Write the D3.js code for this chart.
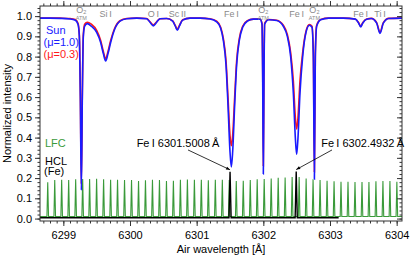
<!DOCTYPE html>
<html>
<head>
<meta charset="utf-8">
<title>Solar spectrum near 6300 A</title>
<style>
  body { margin: 0; background: #fff; }
  svg { font-family: "Liberation Sans", Arial, sans-serif; }
  .axis text { font-size: 11px; fill: #000; }
  .axis line { stroke: #333; }
  .axis path { display: none; }
</style>
</head>
<body>
<svg width="415" height="256"></svg>
<script src="https://d3js.org/d3.v7.min.js"></script>
<script>

// solar spectrum (air wavelength in A)
var wave = [6298.65, 6298.80, 6298.95, 6299.10, 6299.18, 6299.22, 6299.24, 6299.255, 6299.27, 6299.285,
            6299.30, 6299.32, 6299.36, 6299.42, 6299.50, 6299.56, 6299.60, 6299.635, 6299.67, 6299.71,
            6299.77, 6299.85, 6299.95, 6300.10, 6300.25, 6300.30, 6300.35, 6300.40, 6300.45, 6300.55,
            6300.64, 6300.68, 6300.71, 6300.74, 6300.79, 6300.90, 6301.05, 6301.20, 6301.30, 6301.36,
            6301.40, 6301.44, 6301.47, 6301.50, 6301.52, 6301.54, 6301.57, 6301.60, 6301.64, 6301.69,
            6301.76, 6301.85, 6301.95, 6301.98, 6301.99, 6302.00, 6302.01, 6302.02, 6302.08, 6302.20,
            6302.30, 6302.36, 6302.41, 6302.45, 6302.48, 6302.50, 6302.52, 6302.55, 6302.59, 6302.64,
            6302.69, 6302.73, 6302.75, 6302.766, 6302.78, 6302.80, 6302.86, 6302.98, 6303.20, 6303.38,
            6303.43, 6303.46, 6303.49, 6303.55, 6303.62, 6303.70, 6303.75, 6303.80, 6303.88, 6304.08];

// disc centre, mu = 1.0
var sunCentre = [0.990, 0.990, 0.989, 0.986, 0.980, 0.960, 0.900, 0.600, 0.140, 0.600,
                 0.900, 0.950, 0.963, 0.950, 0.920, 0.870, 0.815, 0.778, 0.815, 0.870,
                 0.935, 0.975, 0.987, 0.990, 0.987, 0.970, 0.952, 0.970, 0.987, 0.988,
                 0.975, 0.950, 0.930, 0.950, 0.980, 0.990, 0.990, 0.986, 0.972, 0.940,
                 0.880, 0.760, 0.560, 0.330, 0.255, 0.330, 0.560, 0.760, 0.880, 0.945,
                 0.975, 0.985, 0.985, 0.960, 0.700, 0.220, 0.700, 0.960, 0.982, 0.978,
                 0.950, 0.900, 0.800, 0.620, 0.400, 0.317, 0.400, 0.620, 0.800, 0.920,
                 0.955, 0.945, 0.800, 0.195, 0.800, 0.950, 0.982, 0.990, 0.990, 0.985,
                 0.965, 0.947, 0.965, 0.985, 0.988, 0.965, 0.915, 0.965, 0.988, 0.990];

// towards the limb, mu = 0.3
var sunLimb = [0.991, 0.991, 0.990, 0.988, 0.983, 0.965, 0.910, 0.620, 0.170, 0.620,
               0.910, 0.960, 0.970, 0.960, 0.930, 0.880, 0.825, 0.790, 0.825, 0.880,
               0.940, 0.977, 0.988, 0.990, 0.988, 0.972, 0.957, 0.972, 0.987, 0.988,
               0.977, 0.953, 0.935, 0.953, 0.982, 0.990, 0.990, 0.987, 0.975, 0.945,
               0.890, 0.780, 0.600, 0.410, 0.360, 0.410, 0.600, 0.780, 0.890, 0.950,
               0.977, 0.985, 0.986, 0.965, 0.750, 0.260, 0.750, 0.965, 0.983, 0.980,
               0.955, 0.910, 0.820, 0.680, 0.500, 0.442, 0.500, 0.680, 0.820, 0.925,
               0.958, 0.950, 0.820, 0.230, 0.820, 0.955, 0.983, 0.990, 0.990, 0.986,
               0.967, 0.950, 0.967, 0.986, 0.989, 0.968, 0.920, 0.968, 0.989, 0.990];

// laser frequency comb lines
var lfcWave = [6298.766, 6298.871, 6298.975, 6299.080, 6299.185, 6299.290, 6299.394, 6299.499, 6299.604, 6299.709,
               6299.813, 6299.918, 6300.023, 6300.128, 6300.232, 6300.337, 6300.442, 6300.547, 6300.651, 6300.756,
               6300.861, 6300.966, 6301.070, 6301.175, 6301.280, 6301.385, 6301.489, 6301.594, 6301.699, 6301.804,
               6301.908, 6302.013, 6302.118, 6302.223, 6302.327, 6302.432, 6302.537, 6302.642, 6302.746, 6302.851,
               6302.956, 6303.061, 6303.165, 6303.270, 6303.375, 6303.480, 6303.584, 6303.689, 6303.794, 6303.899,
               6304.003];
var lfcPeak = [0.179, 0.190, 0.192, 0.191, 0.194, 0.195, 0.196, 0.197, 0.194, 0.192,
               0.192, 0.190, 0.190, 0.185, 0.189, 0.192, 0.190, 0.185, 0.187, 0.192,
               0.193, 0.192, 0.192, 0.189, 0.192, 0.192, 0.190, 0.185, 0.187, 0.190,
               0.194, 0.195, 0.198, 0.201, 0.203, 0.205, 0.205, 0.198, 0.194, 0.190,
               0.187, 0.184, 0.182, 0.182, 0.181, 0.180, 0.181, 0.184, 0.185, 0.185,
               0.182];
var lfcBase = 0.010;

// hollow cathode lamp (Fe)
var hclRange = [6298.65, 6303.13];
var hclBase = 0.004;
var hclWave = [6301.5008, 6302.4932];
var hclPeak = [0.231, 0.232];
var hclText = ["Fe\u2009I 6301.5008\u2009\u00c5", "Fe\u2009I 6302.4932\u2009\u00c5"];

// line identifications along the top
var idName = ["O2", "Si\u2009I", "O\u2009I", "Sc\u2009II", "Fe\u2009I", "O2", "Fe\u2009I", "O2", "Fe\u2009I", "Ti\u2009I"];
var idWave = [6299.27, 6299.635, 6300.35, 6300.71, 6301.52, 6302.00, 6302.50, 6302.766, 6303.46, 6303.75];

var xTicks = [6299, 6300, 6301, 6302, 6303, 6304];
var yTicks = [0.0, 0.1, 0.2, 0.3, 0.4, 0.5, 0.6, 0.7, 0.8, 0.9, 1.0];

var blue = "#1a1aff", red = "#ff1a1a", green = "#3a9a3a", grey = "#8a8a8a";

var svg = d3.select("svg");
var pLeft = 40, pRight = 402, pTop = 6, pBottom = 221;

var x = d3.scaleLinear().domain([6298.65, 6304.08]).range([pLeft, pRight]);
var y = d3.scaleLinear().domain([-0.012, 1.05]).range([pBottom, pTop]);

var defs = svg.append("defs");
defs.append("clipPath").attr("id", "clip")
  .append("rect").attr("x", pLeft).attr("y", pTop).attr("width", pRight - pLeft).attr("height", pBottom - pTop);
var inner = svg.append("g").attr("clip-path", "url(#clip)");

//LFC: a thin spike for every comb line
var lfcPts = [[x.domain()[0], lfcBase]];
lfcWave.forEach(function(w, i) {
  lfcPts.push([w - 0.012, lfcBase], [w, lfcPeak[i]], [w + 0.012, lfcBase]);
});
lfcPts.push([x.domain()[1], lfcBase]);
var line = d3.line().x(d => x(d[0])).y(d => y(d[1]));
inner.append("path").attr("d", line(lfcPts))
  .attr("fill", "none").attr("stroke", green).attr("stroke-width", 1.1);

//HCL
var hclPts = [[hclRange[0], hclBase]];
hclWave.forEach(function(w, i) {
  hclPts.push([w - 0.016, hclBase], [w, hclPeak[i]], [w + 0.016, hclBase]);
});
hclPts.push([hclRange[1], hclBase]);
inner.append("path").attr("d", line(hclPts))
  .attr("fill", "none").attr("stroke", "#000").attr("stroke-width", 1.4);

//solar spectra
var spec = d3.line().curve(d3.curveMonotoneX).x((d, i) => x(wave[i])).y(d => y(d));
inner.append("path").attr("d", spec(sunLimb))
  .attr("fill", "none").attr("stroke", red).attr("stroke-width", 1.6);
inner.append("path").attr("d", spec(sunCentre))
  .attr("fill", "none").attr("stroke", blue).attr("stroke-width", 1.6);

//axes, major and minor ticks on every side
var minorX = d3.range(6298.7, 6304.05, 0.1);
var minorY = d3.range(0, 1.041, 0.02);

svg.append("g").attr("class", "axis").attr("transform", "translate(0," + pBottom + ")")
  .call(d3.axisBottom(x).tickValues(minorX).tickSize(2.5).tickFormat(""));
svg.append("g").attr("class", "axis").attr("transform", "translate(0," + pBottom + ")")
  .call(d3.axisBottom(x).tickValues(xTicks).tickSize(5).tickPadding(5.5).tickFormat(d3.format("d")));
svg.append("g").attr("class", "axis").attr("transform", "translate(0," + pTop + ")")
  .call(d3.axisTop(x).tickValues(minorX).tickSize(2.5).tickFormat(""));
svg.append("g").attr("class", "axis").attr("transform", "translate(0," + pTop + ")")
  .call(d3.axisTop(x).tickValues(xTicks).tickSize(5).tickFormat(""));

svg.append("g").attr("class", "axis").attr("transform", "translate(" + pLeft + ",0)")
  .call(d3.axisLeft(y).tickValues(minorY).tickSize(2.5).tickFormat(""));
svg.append("g").attr("class", "axis").attr("transform", "translate(" + pLeft + ",0)")
  .call(d3.axisLeft(y).tickValues(yTicks).tickSize(5).tickPadding(3).tickFormat(d3.format(".1f")));
svg.append("g").attr("class", "axis").attr("transform", "translate(" + pRight + ",0)")
  .call(d3.axisRight(y).tickValues(minorY).tickSize(-2.5).tickFormat(""));
svg.append("g").attr("class", "axis").attr("transform", "translate(" + pRight + ",0)")
  .call(d3.axisRight(y).tickValues(yTicks).tickSize(-5).tickFormat(""));

svg.append("rect").attr("x", pLeft).attr("y", pTop)
  .attr("width", pRight - pLeft).attr("height", pBottom - pTop)
  .attr("fill", "none").attr("stroke", "#333").attr("stroke-width", 1);

//axis titles
svg.append("text").attr("x", (pLeft + pRight) / 2).attr("y", 252.5)
  .attr("text-anchor", "middle").attr("font-size", 11).text("Air wavelength [\u00c5]");
svg.append("text").attr("transform", "translate(11," + ((pTop + pBottom) / 2) + ") rotate(-90)")
  .attr("text-anchor", "middle").attr("font-size", 11).text("Normalized intensity");

//line ids
var ids = svg.append("g").attr("fill", grey).attr("text-anchor", "middle");
idName.forEach(function(n, i) {
  if (n === "O2") {
    var t = ids.append("text").attr("x", x(idWave[i])).attr("y", 12.5).attr("font-size", 9);
    t.append("tspan").text("O");
    t.append("tspan").attr("font-size", 5.5).attr("dy", 1.5).text("2");
    ids.append("text").attr("x", x(idWave[i])).attr("y", 19.5).attr("font-size", 5.5).text("ATM");
  } else {
    ids.append("text").attr("x", x(idWave[i])).attr("y", 17).attr("font-size", 9).text(n);
  }
});

//legend
svg.append("text").attr("x", 46).attr("y", 33.5).attr("font-size", 11).attr("fill", blue).text("Sun");
svg.append("text").attr("x", 43.5).attr("y", 45.5).attr("font-size", 11).attr("fill", blue).text("(\u03bc=1.0)");
svg.append("text").attr("x", 43.5).attr("y", 58).attr("font-size", 11).attr("fill", red).text("(\u03bc=0.3)");
svg.append("text").attr("x", 45).attr("y", 146.5).attr("font-size", 11).attr("fill", green).text("LFC");
svg.append("text").attr("x", 45).attr("y", 164.5).attr("font-size", 11).attr("fill", "#000").text("HCL");
svg.append("text").attr("x", 44).attr("y", 175).attr("font-size", 11).attr("fill", "#000").text("(Fe)");

//annotations for the two Fe I lamp lines
var annTail = [[6300.87, 0.339], [6303.03, 0.339]];
var annText = [[6301.34, "end"], [6302.87, "start"]];
defs.append("marker").attr("id", "arrow")
  .attr("viewBox", "0 0 10 10").attr("refX", 10).attr("refY", 5)
  .attr("markerWidth", 6).attr("markerHeight", 5).attr("orient", "auto")
  .append("path").attr("d", "M0,1L10,5L0,9z").attr("fill", "#000");
hclWave.forEach(function(w, i) {
  svg.append("line")
    .attr("x1", x(annTail[i][0])).attr("y1", y(annTail[i][1]))
    .attr("x2", x(w)).attr("y2", y(hclPeak[i]) - 2)
    .attr("stroke", "#000").attr("stroke-width", 0.8).attr("marker-end", "url(#arrow)");
  svg.append("text").attr("x", x(annText[i][0])).attr("y", 146.5)
    .attr("text-anchor", annText[i][1]).attr("font-size", 11).text(hclText[i]);
});

</script>
</body>
</html>
